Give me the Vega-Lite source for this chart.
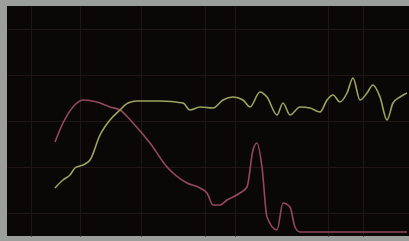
{
  "$schema": "https://vega.github.io/schema/vega-lite/v6.json",
  "width": 402,
  "height": 230,
  "padding": {"left": 7, "top": 6, "right": 0, "bottom": 5},
  "autosize": {"type": "none"},
  "background": "#9c9e9c",
  "config": {
    "view": {"fill": "#0a0707", "stroke": null},
    "axis": {"domain": false, "ticks": false, "labels": false, "title": null, "gridColor": "#201616", "gridWidth": 1, "gridOpacity": 1}
  },
  "datasets": {
    "green": [
      {"x": 48, "y": 48}, {"x": 56, "y": 56}, {"x": 63, "y": 61}, {"x": 68, "y": 68}, {"x": 73, "y": 70},
      {"x": 78, "y": 72}, {"x": 83, "y": 76}, {"x": 93, "y": 101}, {"x": 103, "y": 116}, {"x": 113, "y": 126},
      {"x": 121, "y": 133}, {"x": 130, "y": 135}, {"x": 153, "y": 135}, {"x": 176, "y": 133}, {"x": 183, "y": 126},
      {"x": 193, "y": 129}, {"x": 206, "y": 128}, {"x": 216, "y": 136}, {"x": 226, "y": 139}, {"x": 236, "y": 136},
      {"x": 243, "y": 129}, {"x": 253, "y": 144}, {"x": 260, "y": 139}, {"x": 270, "y": 121}, {"x": 276, "y": 133},
      {"x": 283, "y": 121}, {"x": 293, "y": 129}, {"x": 303, "y": 128}, {"x": 313, "y": 124}, {"x": 320, "y": 136},
      {"x": 326, "y": 141}, {"x": 333, "y": 134}, {"x": 340, "y": 143}, {"x": 346, "y": 158}, {"x": 353, "y": 136},
      {"x": 360, "y": 143}, {"x": 366, "y": 151}, {"x": 373, "y": 139}, {"x": 380, "y": 116}, {"x": 386, "y": 133},
      {"x": 393, "y": 139}, {"x": 400, "y": 143}
    ],
    "red": [
      {"x": 48, "y": 94}, {"x": 56, "y": 113}, {"x": 66, "y": 129}, {"x": 76, "y": 136}, {"x": 90, "y": 134},
      {"x": 103, "y": 129}, {"x": 113, "y": 126}, {"x": 126, "y": 113}, {"x": 143, "y": 93}, {"x": 160, "y": 69},
      {"x": 180, "y": 53}, {"x": 193, "y": 48}, {"x": 200, "y": 43}, {"x": 206, "y": 31}, {"x": 213, "y": 31},
      {"x": 220, "y": 36}, {"x": 233, "y": 43}, {"x": 240, "y": 49}, {"x": 246, "y": 86}, {"x": 250, "y": 93},
      {"x": 255, "y": 69}, {"x": 260, "y": 19}, {"x": 270, "y": 6}, {"x": 276, "y": 33}, {"x": 283, "y": 29},
      {"x": 288, "y": 9}, {"x": 293, "y": 4}, {"x": 400, "y": 4}
    ]
  },
  "layer": [
    {
      "data": {"name": "red"},
      "mark": {"type": "line", "color": "#94485a", "strokeWidth": 1.6, "interpolate": "monotone"},
      "encoding": {
        "x": {"field": "x", "type": "quantitative", "scale": {"domain": [0, 402], "nice": false, "zero": false},
          "axis": {"grid": true, "values": [24, 40, 53, 64, 73, 81, 88, 94, 134, 158, 174, 187, 198, 207, 215, 222, 228, 268, 292, 308, 321, 332, 341, 349, 356, 362]}},
        "y": {"field": "y", "type": "quantitative", "scale": {"domain": [0, 230], "nice": false, "zero": false},
          "axis": {"grid": true, "values": [23, 46, 69, 92, 115, 138, 161, 184, 207]}}
      }
    },
    {
      "data": {"name": "green"},
      "mark": {"type": "line", "color": "#9ca65e", "strokeWidth": 1.6, "interpolate": "monotone"},
      "encoding": {
        "x": {"field": "x", "type": "quantitative"},
        "y": {"field": "y", "type": "quantitative"}
      }
    }
  ]
}
